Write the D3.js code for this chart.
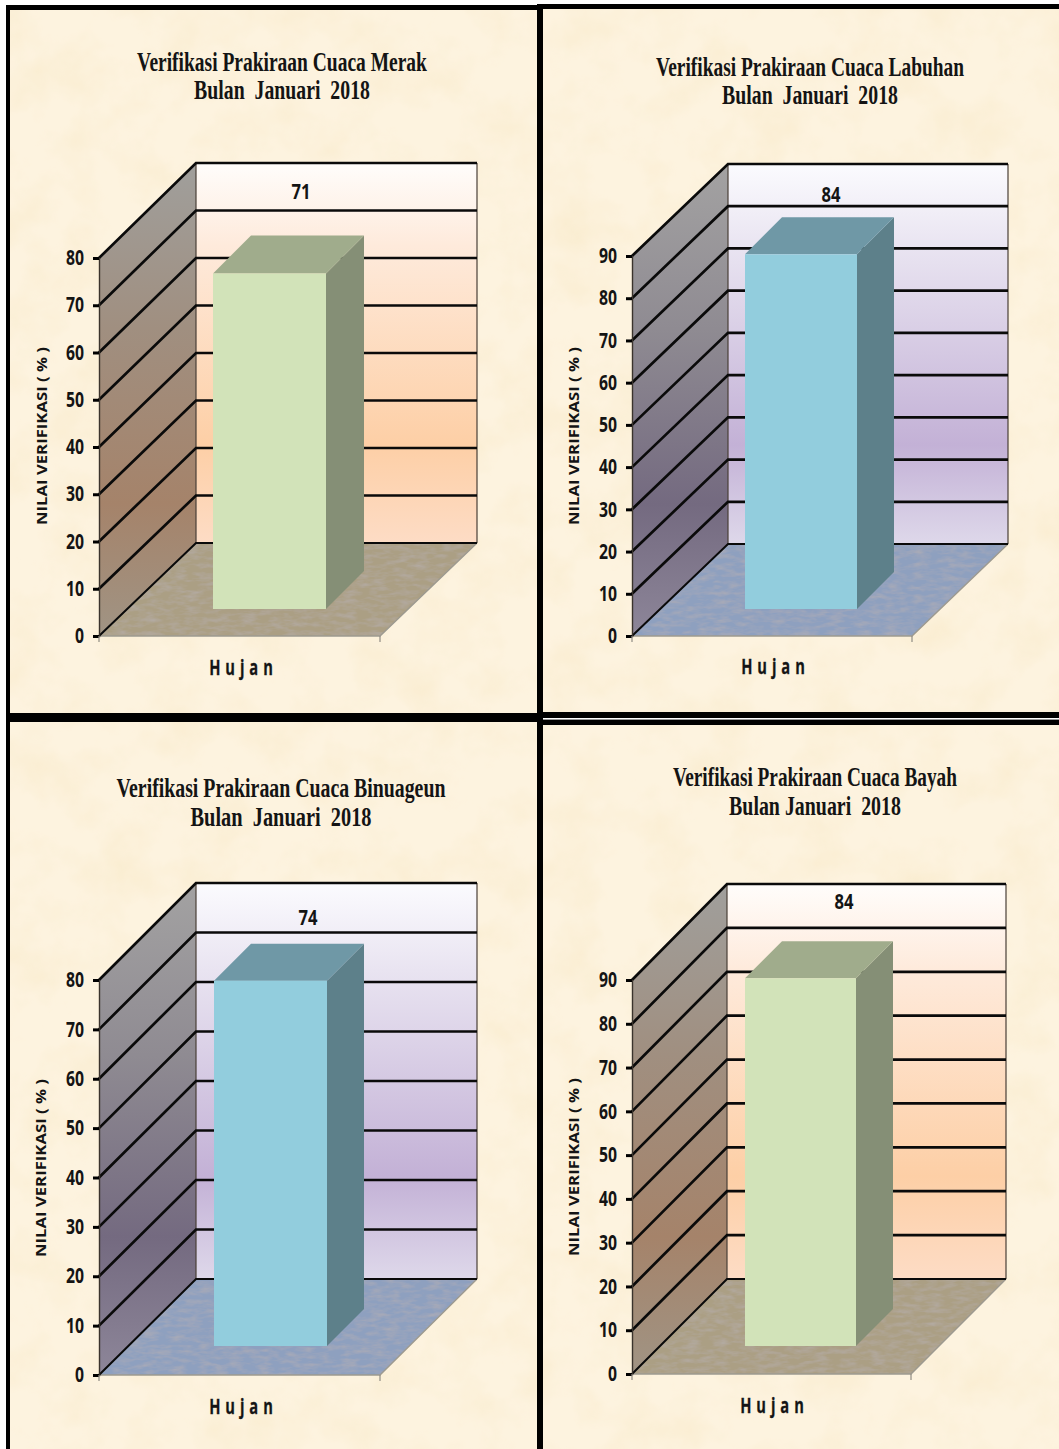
<!DOCTYPE html>
<html>
<head>
<meta charset="utf-8">
<script src="https://cdn.jsdelivr.net/npm/d3@7"></script>
<style>
  html, body { margin: 0; padding: 0; background: #fff; }
  svg { display: block; }
  text { white-space: pre; fill: #141414; }
</style>
</head>
<body>
<svg id="board" width="1059" height="1449"></svg>
<script>
// Rainfall forecast verification, January 2018, one chart per station
const stations = ["Merak", "Labuhan", "Binuageun", "Bayah"];
const categories = ["Hujan"];
const verification = [71, 84, 74, 84];
const axisMaxima = [80, 90, 80, 90];
const tickStep = 10;
const monthLines = ["Bulan  Januari  2018", "Bulan  Januari  2018", "Bulan  Januari  2018", "Bulan Januari  2018"];
const yAxisTitle = "NILAI VERIFIKASI ( % )";

// Colour sets for the two wall styles
const themes = {
  peach: {
    wall: ["#fffdfb", "#feeadb", "#fdcfa6", "#fddcc5"],
    side: ["#a09f9c", "#a08f80", "#a5836a", "#a09484"],
    floor: "#ab9f84",
    front: "#d2e3b9", top: "#a0ac8c", right: "#858f76"
  },
  violet: {
    wall: ["#fbfbfe", "#e9e4f1", "#c3b1d6", "#ded8ea"],
    side: ["#a3a2a2", "#8f8b92", "#746a80", "#8d8699"],
    floor: "#8ea0bf",
    front: "#92cddd", top: "#6f98a6", right: "#5d808a"
  }
};
const panelThemes = ["peach", "violet", "violet", "peach"];

// Placement of each chart on the board
const layout = [
  { axisX: 99,  y0: 636,  yMax: 258, wallBase: 543,  wallTop: 163, floorW: 281, depthX: 97, barFloor: 27, barDepth: 38, barLeft: 114, barW: 113,
    labelX: 301, labelY: 199, titleX: 282, titleY: [71, 99], titleW: [290, 176], hujanX: 241, hujanY: 675, yTitleX: 47, yTitleY: 436 },
  { axisX: 632, y0: 636,  yMax: 256, wallBase: 544,  wallTop: 164, floorW: 280, depthX: 96, barFloor: 27, barDepth: 37, barLeft: 113, barW: 112,
    labelX: 831, labelY: 202, titleX: 810, titleY: [76, 104], titleW: [308, 176], hujanX: 773, hujanY: 674, yTitleX: 579, yTitleY: 436 },
  { axisX: 99,  y0: 1375, yMax: 980, wallBase: 1279, wallTop: 883, floorW: 281, depthX: 97, barFloor: 29, barDepth: 37, barLeft: 115, barW: 113,
    labelX: 308, labelY: 925, titleX: 281, titleY: [797, 826], titleW: [329, 181], hujanX: 241, hujanY: 1414, yTitleX: 46, yTitleY: 1168 },
  { axisX: 632, y0: 1374, yMax: 980, wallBase: 1279, wallTop: 884, floorW: 279, depthX: 95, barFloor: 28, barDepth: 37, barLeft: 113, barW: 111,
    labelX: 844, labelY: 909, titleX: 815, titleY: [786, 815], titleW: [284, 172], hujanX: 772, hujanY: 1413, yTitleX: 579, yTitleY: 1167 }
];

const labelFont = "'Open Sans', sans-serif";
const svg = d3.select("#board");
const defs = svg.append("defs");

// Mottled paper texture for the board background
const paper = defs.append("filter").attr("id", "paperTexture")
  .attr("x", 0).attr("y", 0).attr("width", 1).attr("height", 1);
paper.append("feTurbulence").attr("type", "fractalNoise")
  .attr("baseFrequency", 0.02).attr("numOctaves", 4).attr("seed", 11);
paper.append("feColorMatrix").attr("type", "matrix")
  .attr("values", "0 0 0 0 0.93  0 0 0 0 0.80  0 0 0 0 0.55  0.9 0 0 0 -0.36");
paper.append("feComposite").attr("operator", "in").attr("in2", "SourceAlpha");

// Fine grain for the chart floors
const grain = defs.append("filter").attr("id", "floorGrain")
  .attr("x", 0).attr("y", 0).attr("width", 1).attr("height", 1);
grain.append("feTurbulence").attr("type", "fractalNoise")
  .attr("baseFrequency", "0.07 0.22").attr("numOctaves", 3).attr("seed", 4).attr("result", "noise");
grain.append("feColorMatrix").attr("in", "noise").attr("type", "matrix")
  .attr("values", "0 0 0 0 0.48  0 0 0 0 0.44  0 0 0 0 0.44  1.1 0 0 0 -0.42").attr("result", "tint");
grain.append("feComposite").attr("in", "tint").attr("in2", "SourceGraphic").attr("operator", "atop");

function addGradient(id, stops, offsets) {
  const g = defs.append("linearGradient").attr("id", id)
    .attr("x1", 0).attr("y1", 0).attr("x2", 0).attr("y2", 1);
  stops.forEach((c, i) => g.append("stop").attr("offset", offsets[i]).attr("stop-color", c));
}
Object.entries(themes).forEach(([name, t]) => {
  addGradient("wall-" + name, t.wall, [0, 0.22, 0.74, 1]);
  addGradient("side-" + name, t.side, [0, 0.35, 0.72, 1]);
});

// Board: black frame on white, with parchment panels
svg.append("rect").attr("width", 1059).attr("height", 1449).attr("fill", "#ffffff");
const parchment = [
  { x: 10, y: 10, w: 527, h: 703 },
  { x: 543, y: 9, w: 516, h: 703 },
  { x: 10, y: 722, w: 527, h: 727 },
  { x: 543, y: 725, w: 516, h: 724 }
];
svg.append("rect").attr("x", 6).attr("y", 5).attr("width", 1053).attr("height", 1444).attr("fill", "#000");
svg.append("rect").attr("x", 537).attr("y", 4).attr("width", 522).attr("height", 6).attr("fill", "#000");
svg.selectAll("rect.panel").data(parchment).join("rect").attr("class", "panel")
  .attr("x", d => d.x).attr("y", d => d.y).attr("width", d => d.w).attr("height", d => d.h)
  .attr("fill", "#fdf3df");
svg.selectAll("rect.texture").data(parchment).join("rect").attr("class", "texture")
  .attr("x", d => d.x).attr("y", d => d.y).attr("width", d => d.w).attr("height", d => d.h)
  .attr("fill", "#000").attr("filter", "url(#paperTexture)");
svg.append("rect").attr("x", 543).attr("y", 718).attr("width", 516).attr("height", 1.6).attr("fill", "#fff");

const poly = pts => pts.map(p => p.join(",")).join(" ");

stations.forEach((station, i) => {
  const L = layout[i];
  const theme = themes[panelThemes[i]];
  const g = svg.append("g");

  // Value scale up the front edge, with its counterpart on the back wall
  const y = d3.scaleLinear().domain([0, axisMaxima[i]]).range([L.y0, L.yMax]);
  const yBack = d3.scaleLinear().domain([0, axisMaxima[i]]).range([L.wallBase, L.wallTop]);
  const ticks = d3.range(0, axisMaxima[i] + tickStep, tickStep);

  // Category scale along the front edge of the floor
  const x = d3.scaleBand().domain(categories)
    .range([L.axisX, L.axisX + L.floorW]);
  const backY = yBack(0);
  const topY = yBack(axisMaxima[i]);
  const backX = L.axisX + L.depthX;
  const right = L.axisX + L.floorW;

  // Back wall
  g.append("rect").attr("x", backX).attr("y", topY).attr("width", L.floorW).attr("height", backY - topY)
    .attr("fill", `url(#wall-${panelThemes[i]})`);
  // Side wall
  g.append("polygon")
    .attr("points", poly([[L.axisX, y(axisMaxima[i])], [backX, topY], [backX, backY], [L.axisX, L.y0]]))
    .attr("fill", `url(#side-${panelThemes[i]})`);
  // Floor
  g.append("polygon")
    .attr("points", poly([[L.axisX, L.y0], [right, L.y0], [right + L.depthX, backY], [backX, backY]]))
    .attr("fill", theme.floor).attr("filter", "url(#floorGrain)");

  // Thin outlines of the walls and floor
  g.append("path").attr("fill", "none").attr("stroke", "#4a4038").attr("stroke-width", 1.2)
    .attr("d", `M${backX},${topY}V${backY}M${right + L.depthX},${topY}V${backY}`);
  g.append("path").attr("fill", "none").attr("stroke", "#9d9a90").attr("stroke-width", 1.4)
    .attr("d", `M${L.axisX},${L.y0}H${right}L${right + L.depthX},${backY}`);

  // Gridlines wrapped round the side wall and along the back wall
  g.selectAll("path.grid").data(ticks).join("path").attr("class", "grid")
    .attr("fill", "none").attr("stroke", "#0a0a0a")
    .attr("stroke-width", d => d === 0 ? 2 : 2.7)
    .attr("d", d => `M${L.axisX},${y(d)}L${backX},${yBack(d)}H${right + L.depthX}`);

  // Value axis
  const axis = d3.axisLeft(y).tickValues(ticks).tickSize(6).tickPadding(9).tickFormat(d3.format("d"));
  const axisG = g.append("g").attr("transform", `translate(${L.axisX},0)`).call(axis);
  axisG.select(".domain").attr("stroke", "#3a332c").attr("stroke-width", 1.4);
  axisG.selectAll(".tick line").attr("stroke", "#000").attr("stroke-width", 3);
  axisG.selectAll(".tick text")
    .attr("font-family", labelFont).attr("font-size", 21).attr("font-weight", 700).attr("fill", "#141414")
    .attr("textLength", d => d === 0 ? 9 : 18).attr("lengthAdjust", "spacingAndGlyphs");

  // Category ticks under the floor
  g.selectAll("line.catTick").data([L.axisX, right]).join("line").attr("class", "catTick")
    .attr("x1", d => d).attr("x2", d => d).attr("y1", L.y0).attr("y2", L.y0 + 6)
    .attr("stroke", "#8f8c84").attr("stroke-width", 1.2);

  // The bar: the front face stands on the floor and its height comes from the value scale
  const frontBase = L.y0 - L.barFloor;
  const barH = L.y0 - y(verification[i]);
  const barX = x(categories[0]) + L.barLeft;
  const barTop = frontBase - barH;
  const bar = g.append("g");
  bar.append("polygon")
    .attr("points", poly([[barX + L.barW, barTop], [barX + L.barW + L.barDepth, barTop - L.barDepth],
                          [barX + L.barW + L.barDepth, frontBase - L.barDepth], [barX + L.barW, frontBase]]))
    .attr("fill", theme.right);
  bar.append("polygon")
    .attr("points", poly([[barX, barTop], [barX + L.barDepth, barTop - L.barDepth],
                          [barX + L.barW + L.barDepth, barTop - L.barDepth], [barX + L.barW, barTop]]))
    .attr("fill", theme.top);
  bar.append("rect").attr("x", barX).attr("y", barTop).attr("width", L.barW).attr("height", barH)
    .attr("fill", theme.front);

  // Value label
  g.append("text").attr("x", L.labelX).attr("y", L.labelY).attr("text-anchor", "middle")
    .attr("font-family", labelFont).attr("font-size", 21).attr("font-weight", 700)
    .attr("textLength", 19).attr("lengthAdjust", "spacingAndGlyphs")
    .text(verification[i]);

  // Category label, narrow glyphs with wide tracking
  g.append("text").attr("transform", `translate(${L.hujanX},${L.hujanY}) scale(0.7,1)`)
    .attr("text-anchor", "middle")
    .attr("font-family", labelFont).attr("font-size", 21).attr("font-weight", 700)
    .attr("stroke", "#222").attr("stroke-width", 0.3)
    .attr("textLength", 91).attr("lengthAdjust", "spacing").attr("fill", "#222")
    .text(categories[0]);

  // Axis title
  g.append("text").attr("transform", `translate(${L.yTitleX},${L.yTitleY}) rotate(-90)`)
    .attr("text-anchor", "middle").attr("font-family", labelFont)
    .attr("font-size", 15).attr("font-weight", 700)
    .attr("textLength", 178).attr("lengthAdjust", "spacingAndGlyphs")
    .text(yAxisTitle);

  // Two-line chart title, condensed horizontally to its column width
  [`Verifikasi Prakiraan Cuaca ${station}`, monthLines[i]].forEach((line, k) => {
    const t = g.append("text").attr("text-anchor", "middle")
      .attr("font-family", "'Liberation Serif', serif").attr("font-size", 27).attr("font-weight", 700)
      .text(line);
    const squeeze = L.titleW[k] / t.node().getComputedTextLength();
    t.attr("transform", `translate(${L.titleX},${L.titleY[k]}) scale(${squeeze},1)`);
  });
});
</script>
</body>
</html>
